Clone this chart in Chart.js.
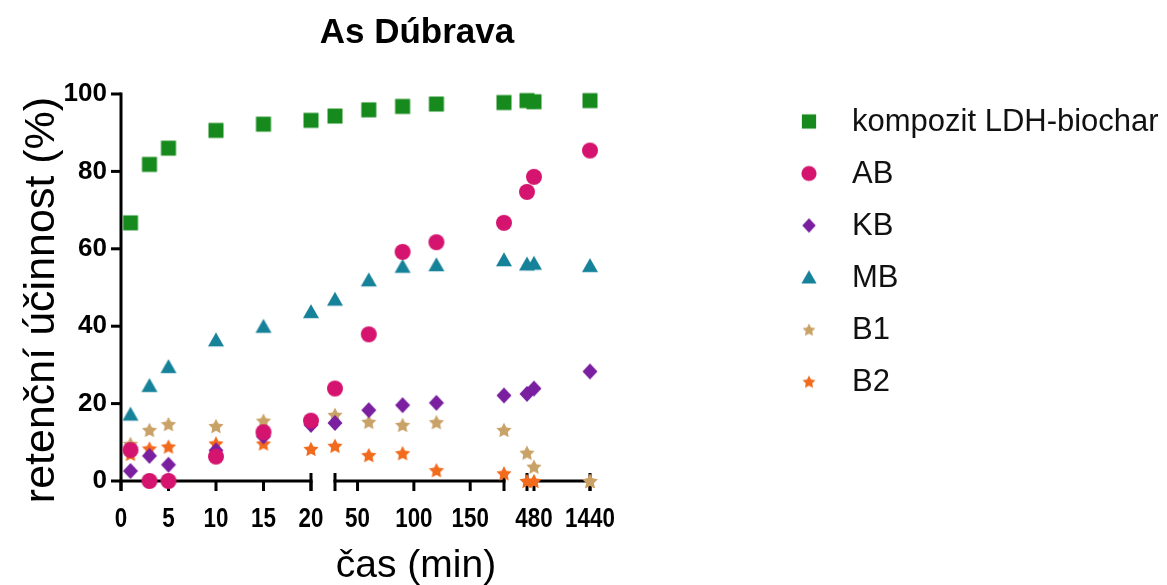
<!DOCTYPE html>
<html>
<head>
<meta charset="utf-8">
<script src="https://cdn.jsdelivr.net/npm/chart.js@4/dist/chart.umd.min.js"></script>
<style>
  html, body { margin: 0; padding: 0; background: #ffffff; }
  #wrap { width: 1167px; height: 585px; }
</style>
</head>
<body>
<div id="wrap"><canvas id="c" width="1167" height="585"></canvas></div>
<script>
// ---------- DATA ----------
const times = [1, 3, 5, 10, 15, 20, 30, 60, 90, 120, 180, 360, 480, 1440];
const kompozit = [66.7, 81.8, 86.0, 90.6, 92.2, 93.2, 94.3, 95.9, 96.8, 97.4, 97.8, 98.3, 98.0, 98.3];
const AB = [8.0, 0, 0, 6.3, 12.6, 15.6, 23.9, 37.9, 59.2, 61.7, 66.7, 74.7, 78.6, 85.4];
const KB = [2.6, 6.5, 4.2, 7.9, 11.5, 14.5, 15.0, 18.3, 19.6, 20.2, 22.1, 22.5, 23.9, 28.3];
const MB = [17.2, 24.6, 29.5, 36.4, 39.9, 43.7, 46.9, 51.9, 55.4, 55.8, 57.1, 56.0, 56.2, 55.6];
const B1 = [9.6, 13.2, 14.7, 14.2, 15.6, 15.5, 17.1, 15.3, 14.5, 15.2, 13.2, 7.3, 3.7, 0];
const B2 = [7.0, 8.4, 8.9, 9.7, 9.7, 8.3, 9.1, 6.7, 7.2, 2.8, 2.0, 0, 0, 0];
const seriesNames = ['kompozit LDH-biochar', 'AB', 'KB', 'MB', 'B1', 'B2'];
const xTickValues = [0, 5, 10, 15, 20, 50, 100, 150, 480, 1440];
const xTickLabels = ['0', '5', '10', '15', '20', '50', '100', '150', '480', '1440'];
const yTickValues = [0, 20, 40, 60, 80, 100];

// ---------- BROKEN-AXIS LAYOUT (segments of the time axis) ----------
const SEGMENTS = [
  { from: 0,   to: 20,   start: 0,   end: 190 },
  { from: 30,  to: 180,  start: 214, end: 383 },
  { from: 360, to: 1440, start: 406, end: 469 }
];
function toU(t) {
  for (const s of SEGMENTS) {
    if (t >= s.from && t <= s.to) return s.start + (t - s.from) / (s.to - s.from) * (s.end - s.start);
  }
  return NaN;
}

const FONT = '"Liberation Sans", Arial, Helvetica, sans-serif';

// ---------- MARKERS ----------
function makeMarker(shape, color, scale) {
  scale = scale || 1;
  const S = 22;
  const c = document.createElement('canvas');
  c.width = S; c.height = S;
  const g = c.getContext('2d');
  g.fillStyle = color;
  const cx = S / 2, cy = S / 2;
  g.beginPath();
  if (shape === 'square') {
    const h = 7.5 * scale; g.rect(cx - h, cy - h, 2 * h, 2 * h);
  } else if (shape === 'circle') {
    g.arc(cx, cy, 8 * scale, 0, Math.PI * 2);
  } else if (shape === 'diamond') {
    const w = 7.5 * scale, h = 8 * scale;
    g.moveTo(cx, cy - h); g.lineTo(cx + w, cy); g.lineTo(cx, cy + h); g.lineTo(cx - w, cy); g.closePath();
  } else if (shape === 'triangle') {
    const w = 8 * scale, h = 14 * scale;
    g.moveTo(cx, cy - h * 0.55); g.lineTo(cx + w, cy + h * 0.45); g.lineTo(cx - w, cy + h * 0.45); g.closePath();
  } else if (shape === 'star') {
    const R = 8 * scale, r = R * 0.5;
    for (let k = 0; k < 10; k++) {
      const rad = (k % 2 === 0) ? R : r;
      const a = -Math.PI / 2 + k * Math.PI / 5;
      const px = cx + rad * Math.cos(a), py = cy + 0.8 + rad * Math.sin(a);
      if (k === 0) g.moveTo(px, py); else g.lineTo(px, py);
    }
    g.closePath();
  }
  g.fill();
  return c;
}
const colors = ['#168a1c', '#d4146e', '#7a1fa0', '#16829a', '#c9a267', '#f26a1b'];
const shapes = ['square', 'circle', 'diamond', 'triangle', 'star', 'star'];
const markers = shapes.map((s, i) => makeMarker(s, colors[i], 1));
const legendMarkers = shapes.map((s, i) => makeMarker(s, colors[i], s === 'star' ? 0.85 : (s === 'diamond' ? 0.9 : 0.95)));

const allValues = [kompozit, AB, KB, MB, B1, B2];
const datasets = allValues.map((vals, i) => ({
  label: seriesNames[i],
  data: times.map((t, k) => ({ x: toU(t), y: vals[k] })),
  pointStyle: markers[i],
  pointRadius: 8,
  backgroundColor: colors[i],
  borderColor: colors[i],
  showLine: false,
  clip: false
}));

// ---------- PLUGINS ----------
const axesPlugin = {
  id: 'brokenAxes',
  beforeDatasetsDraw(chart) {
    const { ctx, scales: { x, y } } = chart;
    const y0 = y.getPixelForValue(0);
    const yTop = y.getPixelForValue(100);
    const xa = x.getPixelForValue(0);
    ctx.save();
    ctx.strokeStyle = '#000';
    ctx.lineWidth = 3;
    ctx.lineCap = 'butt';
    const line = (x1, y1, x2, y2) => { ctx.beginPath(); ctx.moveTo(x1, y1); ctx.lineTo(x2, y2); ctx.stroke(); };
    line(xa, yTop - 1.5, xa, y0 + 10);
    yTickValues.forEach(v => { const p = y.getPixelForValue(v); line(xa - 10, p, xa, p); });
    SEGMENTS.forEach((s, i) => {
      const a = x.getPixelForValue(s.start), b = x.getPixelForValue(s.end);
      line(a - 1.5, y0, b + 1.5, y0);
      if (i > 0) line(a, y0 - 8, a, y0 + 10);
      line(b, y0 - 8, b, y0 + 10);
    });
    xTickValues.forEach(t => { const p = x.getPixelForValue(toU(t)); line(p, y0, p, y0 + 10); });
    // x tick labels (condensed bold), placed by the x scale
    ctx.fillStyle = '#000';
    ctx.font = 'bold 28px ' + FONT;
    ctx.textAlign = 'center';
    ctx.textBaseline = 'alphabetic';
    x.ticks.forEach((tk, i) => {
      const p = x.getPixelForValue(tk.value);
      ctx.save();
      ctx.translate(p, y0 + 46);
      ctx.scale(0.8, 1);
      ctx.fillText(xTickLabels[i], 0, 0);
      ctx.restore();
    });
    ctx.restore();
  },
  afterDraw(chart) {
    const { ctx } = chart;
    ctx.save();
    ctx.fillStyle = '#000';
    ctx.font = 'bold 35px ' + FONT;
    ctx.textAlign = 'center';
    ctx.textBaseline = 'alphabetic';
    ctx.fillText('As Dúbrava', 417, 43);
    ctx.font = '39px ' + FONT;
    ctx.fillText('čas (min)', 416, 577);
    ctx.save();
    ctx.translate(54, 300);
    ctx.rotate(-Math.PI / 2);
    ctx.font = '43px ' + FONT;
    ctx.fillText('retenční účinnost (%)', 0, 0);
    ctx.restore();
    ctx.font = '31px ' + FONT;
    ctx.textAlign = 'left';
    ctx.textBaseline = 'middle';
    seriesNames.forEach((name, i) => {
      const ry = 121.5 + 52 * i;
      const m = legendMarkers[i];
      ctx.drawImage(m, 809 - m.width / 2, ry - m.height / 2);
      ctx.fillStyle = '#111';
      ctx.fillText(name, 852, ry + 1);
    });
    ctx.restore();
  }
};

new Chart(document.getElementById('c'), {
  type: 'scatter',
  data: { datasets },
  plugins: [axesPlugin],
  options: {
    responsive: false,
    animation: false,
    devicePixelRatio: 1,
    layout: { padding: { top: 94, right: 577, bottom: 0, left: 0 } },
    plugins: { legend: { display: false }, title: { display: false }, tooltip: { enabled: false } },
    scales: {
      x: {
        type: 'linear',
        min: 0,
        max: 469,
        afterBuildTicks: (s) => { s.ticks = xTickValues.map(t => ({ value: toU(t) })); },
        afterFit: (s) => { s.height = 104; },
        ticks: {
          display: false,
          autoSkip: false, maxRotation: 0, minRotation: 0,
          callback: (v, i) => xTickLabels[i]
        },
        grid: { display: false, drawTicks: false },
        border: { display: false }
      },
      y: {
        type: 'linear',
        min: 0,
        max: 100,
        afterBuildTicks: (s) => { s.ticks = yTickValues.map(v => ({ value: v })); },
        afterFit: (s) => { s.width = 121; },
        ticks: {
          color: '#000',
          font: { family: FONT, size: 26, weight: 'bold' },
          padding: 14
        },
        grid: { display: false, drawTicks: false },
        border: { display: false }
      }
    }
  }
});
</script>
</body>
</html>
